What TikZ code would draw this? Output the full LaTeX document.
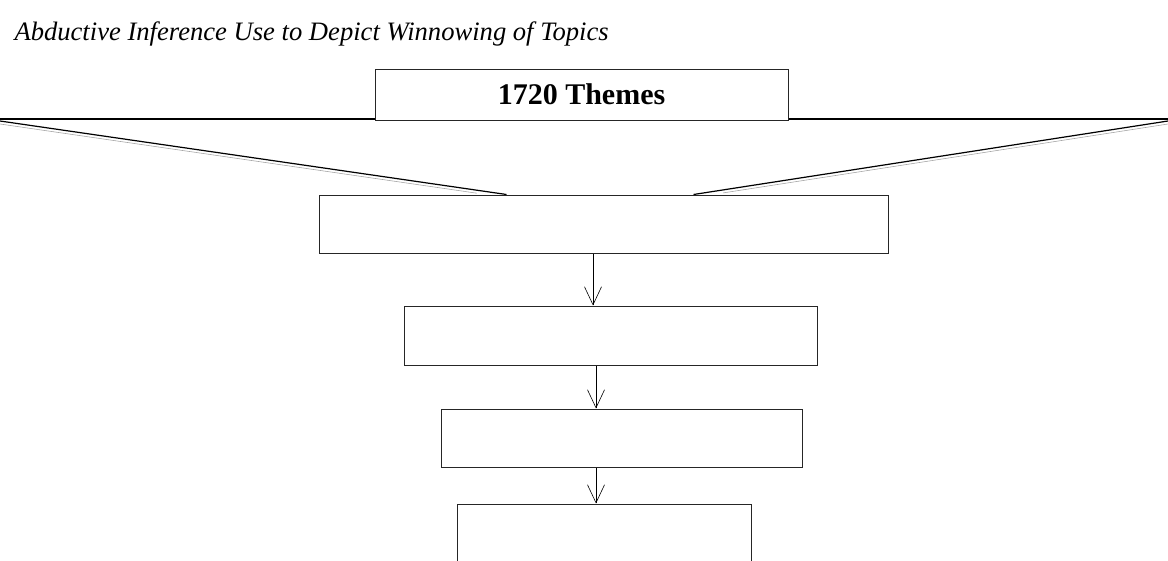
\documentclass[tikz,border=0pt]{standalone}
\usepackage{fontspec}
\setmainfont{Liberation Serif}
\usepackage{xcolor}
\usepackage{tikz}
\usetikzlibrary{arrows.meta}
\tikzstyle{stage}=[rectangle,draw=black!85,line width=1pt,fill=white,inner sep=0pt]
\tikzstyle{rim}=[draw=black,line width=1.2pt]
\tikzstyle{rimshade}=[draw=black!35,line width=0.6pt]
\tikzstyle{flow}=[draw=black,line width=0.6pt,-{Straight Barb[length=18pt,width=17pt,line width=0.6pt]}]

\begin{document}
\begin{tikzpicture}[x=1pt,y=-1pt]
					\useasboundingbox (0,0) rectangle (1168,560);
					\node [anchor=base west,font=\fontsize{26.6}{30}\selectfont\itshape] (title) at (11,40) {Abductive Inference Use to Depict Winnowing of Topics};
					\coordinate (lt) at (0,121);
					\coordinate (rt) at (1168,121);
					\draw [rim,line width=1.8pt] (0,119) -- (1168,119);
					\node [stage,minimum width=413pt,minimum height=51pt,font=\fontsize{30}{34}\selectfont\bfseries] (themes) at (581.5,94.5) {1720 Themes};
					\node [stage,minimum width=569pt,minimum height=58pt] (b1) at (603.5,224) {};
					\node [stage,minimum width=413pt,minimum height=59pt] (b2) at (610.5,335.5) {};
					\node [stage,minimum width=361pt,minimum height=58pt] (b3) at (621.5,438) {};
					\node [stage,minimum width=294pt,minimum height=70pt] (b4) at (604,539) {};
					% funnel sides
					\draw [rimshade,shorten >=30pt] ([yshift=-3pt]lt) -- ([xshift=188pt,yshift=-3pt]b1.north west);
					\draw [rimshade,shorten >=30pt] ([yshift=-3pt]rt) -- ([xshift=-195pt,yshift=-3pt]b1.north east);
					\draw [rim] (lt) -- ([xshift=188pt]b1.north west);
					\draw [rim] (rt) -- ([xshift=-195pt]b1.north east);
					% winnowing steps
					\draw [flow] ([xshift=-10.5pt]b1.south) -- ([xshift=-17.5pt]b2.north);
					\draw [flow] ([xshift=-14.5pt]b2.south) -- ([xshift=-25.5pt]b3.north);
					\draw [flow] ([xshift=-25.5pt]b3.south) -- ([xshift=-8pt]b4.north);
					\end{tikzpicture}
\end{document}
